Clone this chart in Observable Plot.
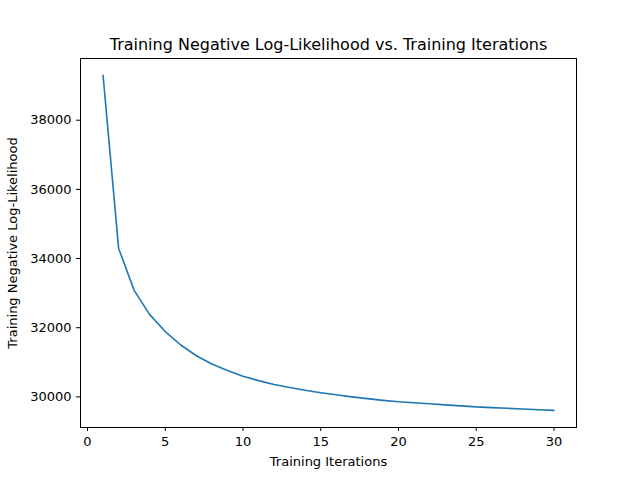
<!DOCTYPE html>
<html><head><meta charset="utf-8">
<script src="https://cdn.jsdelivr.net/npm/d3@7"></script>
<script src="https://cdn.jsdelivr.net/npm/@observablehq/plot@0.6"></script>
<style>body{margin:0;background:#fff}</style>
</head><body><div id="chart"></div>
<script>
const iterations = d3.range(1, 31)
const nll = [39300, 34300, 33080, 32380, 31890, 31500, 31190, 30950, 30760, 30600,
  30470, 30360, 30270, 30190, 30120, 30060, 30000, 29950, 29900, 29860,
  29830, 29800, 29770, 29740, 29710, 29690, 29670, 29650, 29630, 29610]
const data = iterations.map((it, i) => ({it, v: nll[i]}))

const chart = Plot.plot({
  width: 640, height: 480,
  marginLeft: 80, marginRight: 64, marginTop: 58, marginBottom: 53,
  style: {fontFamily: "DejaVu Sans", fontSize: "10px", color: "#000"},
  x: {domain: [-0.45, 31.45], ticks: [0, 5, 10, 15, 20, 25, 30], label: "Training Iterations",
      labelAnchor: "center", labelArrow: "none", labelOffset: 38, tickSize: 4},
  y: {domain: [29115, 39785], ticks: [30000, 32000, 34000, 36000, 38000], tickFormat: d => String(d),
      label: "Training Negative Log-Likelihood", labelAnchor: "center", labelArrow: "none",
      labelOffset: 73, tickSize: 4},
  marks: [
    Plot.frame({stroke: "#000"}),
    Plot.line(data, {x: "it", y: "v", stroke: "#1f77b4", strokeWidth: 1.6}),
    Plot.text(["Training Negative Log-Likelihood vs. Training Iterations"],
      {frameAnchor: "top", dy: -20, fontSize: 16, fill: "#000"})
  ]
})
d3.select("#chart").append(() => chart)
d3.select(chart).selectAll("g[aria-label*='label'] text").style("font-size", "13px")
</script>
</body></html>
